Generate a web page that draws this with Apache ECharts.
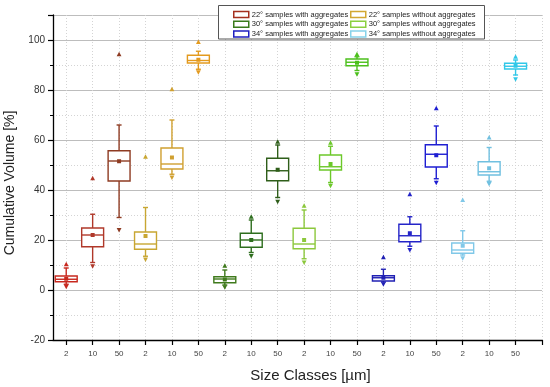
<!DOCTYPE html>
<html><head><meta charset="utf-8">
<script src="https://cdn.jsdelivr.net/npm/echarts@6/dist/echarts.min.js"></script>
<style>html,body{margin:0;padding:0;background:#fff}#c{width:550px;height:387px}</style>
</head><body><div id="c"></div>
<script>
// x tick labels (size classes, µm)
const sizeLabels = ['2','10','50','2','10','50','2','10','50','2','10','50','2','10','50','2','10','50'];
const seriesNames = [
  '22° samples with aggregates', '22° samples without aggregates',
  '30° samples with aggregates', '30° samples without aggregates',
  '34° samples with aggregates', '34° samples without aggregates'
];
// rows per size class (2, 10, 50 µm):
// [whiskerLow, q1, median, q3, whiskerHigh, mean, min, max]
const agg22 = [
  [2.3, 3.3, 4.3, 5.6, 8.8, 4.5, 1.3, 10.3],
  [11.0, 17.3, 22.0, 24.8, 30.3, 22.0, 9.5, 44.7],
  [29.0, 43.6, 51.6, 55.7, 66.0, 51.5, 24.0, 94.3]
];
const noAgg22 = [
  [13.5, 16.3, 18.4, 23.2, 33.0, 21.6, 12.2, 53.3],
  [46.3, 48.4, 50.4, 56.8, 68.0, 53.0, 45.0, 80.3],
  [88.3, 90.8, 91.8, 93.9, 95.5, 92.1, 87.1, 99.2]
];
const agg30 = [
  [2.0, 2.9, 4.4, 5.3, 8.0, 4.2, 1.1, 9.7],
  [15.0, 17.1, 20.0, 22.7, 28.0, 20.0, 13.6, 29.3],
  [37.0, 43.7, 47.7, 52.7, 58.0, 48.1, 35.3, 59.3]
];
const noAgg30 = [
  [12.5, 16.5, 18.4, 24.7, 32.0, 20.0, 11.0, 33.7],
  [43.0, 48.0, 49.3, 54.0, 57.5, 50.4, 41.7, 58.9],
  [87.8, 89.7, 91.1, 92.4, 93.3, 90.9, 86.3, 94.3]
];
const agg34 = [
  [3.2, 3.6, 4.9, 5.7, 8.3, 4.9, 2.3, 13.1],
  [17.5, 19.3, 21.7, 26.3, 29.3, 22.7, 16.0, 38.3],
  [44.5, 49.2, 54.3, 58.1, 65.6, 53.9, 42.9, 72.7]
];
const noAgg34 = [
  [14.0, 14.7, 16.0, 18.8, 23.7, 17.7, 12.7, 36.0],
  [43.5, 46.0, 47.3, 51.3, 57.0, 48.7, 42.4, 61.0],
  [86.0, 88.4, 89.5, 90.7, 92.0, 89.7, 84.3, 93.3]
];
const allSeries = [agg22, noAgg22, agg30, noAgg30, agg34, noAgg34];

// styling
const legendColors = ['#A5301F', '#D2A832', '#3A7A1A', '#8CD040', '#1E1EC0', '#86D2EA'];
const boxColors = [
  ['#C8281E', '#B0382A', '#8E3B22'],
  ['#C8A632', '#D0A030', '#E39A1E'],
  ['#3F7A1C', '#2E6E1E', '#2F5E1A'],
  ['#8CC83C', '#6CC82A', '#4CC01C'],
  ['#2020B4', '#2424C8', '#1E1ED2'],
  ['#80C8E8', '#70C0E0', '#30C8E8']
];

function renderBox(params, api) {
  const x = api.value(0);
  const c = boxColors[params.seriesIndex][params.dataIndex];
  const unit = api.size([1, 0])[0];
  const hw = unit * 0.83 / 2, cap = 2.5, t = 2.4;
  const p = k => api.coord([x, api.value(k)]);
  const wl = p(1), q1 = p(2), md = p(3), q3 = p(4), wh = p(5), mn = p(6), lo = p(7), hi = p(8);
  const cx = wl[0];
  const ls = {stroke: c, lineWidth: 1.4, fill: null};
  return {
    type: 'group',
    children: [
      {type: 'line', shape: {x1: cx, y1: q3[1], x2: cx, y2: wh[1]}, style: ls},
      {type: 'line', shape: {x1: cx - cap, y1: wh[1], x2: cx + cap, y2: wh[1]}, style: ls},
      {type: 'line', shape: {x1: cx, y1: q1[1], x2: cx, y2: wl[1]}, style: ls},
      {type: 'line', shape: {x1: cx - cap, y1: wl[1], x2: cx + cap, y2: wl[1]}, style: ls},
      {type: 'rect', shape: {x: cx - hw, y: q3[1], width: hw * 2, height: q1[1] - q3[1]},
        style: {stroke: c, lineWidth: 1.4, fill: '#fff'}},
      {type: 'line', shape: {x1: cx - hw, y1: md[1], x2: cx + hw, y2: md[1]}, style: ls},
      {type: 'rect', shape: {x: cx - 2, y: mn[1] - 2, width: 4, height: 4}, style: {fill: c}},
      {type: 'polygon', shape: {points: [[cx, hi[1] - t], [cx - t, hi[1] + t * 0.8], [cx + t, hi[1] + t * 0.8]]}, style: {fill: c}},
      {type: 'polygon', shape: {points: [[cx, lo[1] + t], [cx - t, lo[1] - t * 0.8], [cx + t, lo[1] - t * 0.8]]}, style: {fill: c}}
    ]
  };
}

const series = allSeries.map((rows, si) => ({
  type: 'custom',
  name: seriesNames[si],
  renderItem: renderBox,
  encode: {x: 0, y: [1, 2, 3, 4, 5, 6, 7, 8]},
  itemStyle: {color: legendColors[si]},
  z: 3,
  data: rows.map((r, j) => [si * 3 + j + 1].concat(r))
}));

const legendItem = i => ({name: seriesNames[i], itemStyle: {color: '#fff', borderColor: legendColors[i], borderWidth: 1.5}});
const legendBase = {
  orient: 'vertical', top: 10.5, padding: 0, itemWidth: 15, itemHeight: 6, itemGap: 1.8, icon: 'rect',
  textStyle: {fontSize: 7.5, color: '#222', fontFamily: 'Liberation Sans, Arial', padding: [0, 0, 0, -2]},
  selectedMode: false, z: 12
};

const chart = echarts.init(document.getElementById('c'), null, {renderer: 'canvas'});
chart.setOption({
  animation: false,
  backgroundColor: '#fff',
  textStyle: {fontFamily: 'Liberation Sans, Arial'},
  grid: {left: 53, right: 8, top: 15, bottom: 47, containLabel: false, outerBoundsMode: 'none'},
  legend: [
    Object.assign({}, legendBase, {left: 233, data: [0, 2, 4].map(legendItem)}),
    Object.assign({}, legendBase, {left: 350, data: [1, 3, 5].map(legendItem)})
  ],
  graphic: [{type: 'rect', z: 10, shape: {x: 218.5, y: 5.5, width: 266, height: 33.5},
    style: {fill: '#fff', stroke: '#555', lineWidth: 1}}],
  xAxis: {
    type: 'value', min: 0.5, max: 19,
    name: 'Size Classes [µm]', nameLocation: 'middle', nameGap: 28,
    nameTextStyle: {fontSize: 15, color: '#222', padding: [0, 0, 0, 26]},
    axisLine: {onZero: false, lineStyle: {color: '#000', width: 1.3}},
    axisTick: {length: 5, customValues: [1,2,3,4,5,6,7,8,9,10,11,12,13,14,15,16,17,18,19], lineStyle: {color: '#000', width: 1.2}},
    axisLabel: {customValues: [1,2,3,4,5,6,7,8,9,10,11,12,13,14,15,16,17,18], margin: 10, fontSize: 8, color: '#444',
      formatter: v => sizeLabels[Math.round(v) - 1]},
    splitLine: {show: true, lineStyle: {color: '#d4d4d4', type: [1, 2], width: 1}}
  },
  yAxis: {
    type: 'value', min: -20, max: 110, interval: 20,
    name: 'Cumulative Volume [%]', nameLocation: 'middle', nameGap: 34,
    nameTextStyle: {fontSize: 14, color: '#222', padding: [0, 11, 0, 0]},
    axisLine: {show: true, lineStyle: {color: '#000', width: 1.3}},
    axisTick: {show: true, length: 5, lineStyle: {color: '#000', width: 1.2}},
    minorTick: {show: true, splitNumber: 2, length: 3, lineStyle: {color: '#000', width: 1}},
    axisLabel: {margin: 8, fontSize: 10, color: '#333', showMaxLabel: false},
    splitLine: {show: true, lineStyle: {color: '#bdbdbd', width: 1}},
    minorSplitLine: {show: true, lineStyle: {color: '#d4d4d4', type: [1, 2], width: 1}}
  },
  series: series
});
</script></body></html>
